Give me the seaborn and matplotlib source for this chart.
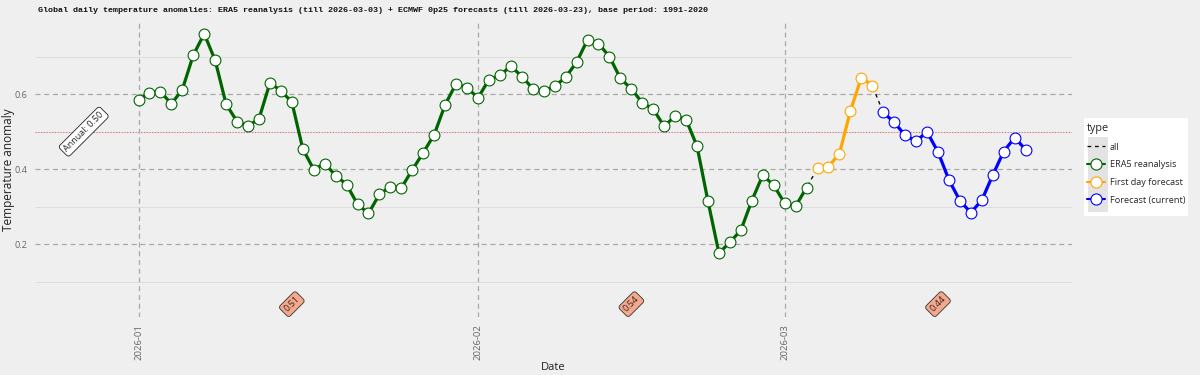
import numpy as np
import pandas as pd
import matplotlib
matplotlib.use('Agg')
import matplotlib.pyplot as plt
import matplotlib.dates as mdates
from matplotlib.lines import Line2D
from matplotlib.patches import Rectangle
import seaborn as sns

# daily anomalies (degC vs 1991-2020)
START = '2026-01-01'
era5 = [0.585, 0.603, 0.607, 0.574, 0.612, 0.704, 0.761, 0.690, 0.573, 0.527,
        0.515, 0.534, 0.630, 0.609, 0.579, 0.454, 0.399, 0.415, 0.383, 0.359,
        0.306, 0.282, 0.333, 0.353, 0.350, 0.398, 0.444, 0.492, 0.572, 0.628,
        0.617,
        0.590, 0.639, 0.650, 0.675, 0.647, 0.615, 0.609, 0.621, 0.645, 0.685,
        0.745, 0.735, 0.700, 0.642, 0.614, 0.577, 0.560, 0.514, 0.542, 0.532,
        0.461, 0.314, 0.176, 0.205, 0.237, 0.316, 0.384, 0.357,
        0.309, 0.301, 0.351]
first_day = [0.402, 0.407, 0.441, 0.555, 0.644, 0.623]
forecast = [0.551, 0.525, 0.490, 0.475, 0.499, 0.446, 0.371, 0.316, 0.284, 0.317,
            0.384, 0.447, 0.484, 0.452]

types = ['ERA5 reanalysis', 'First day forecast', 'Forecast (current)']
colors = {'ERA5 reanalysis': '#006400', 'First day forecast': '#FFA500',
          'Forecast (current)': '#0000FF'}

month_starts = ['2026-01-01', '2026-02-01', '2026-03-01']
month_means = ['0.51', '0.54', '0.44']
annual_mean = 0.50

title = ('Global daily temperature anomalies: ERA5 reanalysis (till 2026-03-03) + '
         'ECMWF 0p25 forecasts (till 2026-03-23), base period: 1991-2020')

BG = '#efefef'

values = era5 + first_day + forecast
labels = [types[0]] * len(era5) + [types[1]] * len(first_day) + [types[2]] * len(forecast)
df = pd.DataFrame({'date': pd.date_range(START, periods=len(values), freq='D'),
                   'anomaly': values, 'type': labels})

sns.set_theme(style='white', rc={'axes.facecolor': BG, 'figure.facecolor': BG})
plt.rcParams['font.family'] = ['Open Sans', 'DejaVu Sans']

fig, ax = plt.subplots(figsize=(12, 3.75), dpi=100)
fig.subplots_adjust(left=0.029, right=0.893, bottom=0.155, top=0.941)

# grid first
ax.set_axisbelow(True)
ax.set_yticks([0.2, 0.4, 0.6])
ax.set_yticks([0.1, 0.3, 0.5, 0.7], minor=True)
ax.grid(which='major', axis='both', ls=(0, (4, 3)), color='#a8a8a8', lw=0.9)
ax.grid(which='minor', axis='y', ls='-', color='#dadada', lw=0.6)
ax.axhline(annual_mean, color='#e07070', ls=(0, (1, 1.5)), lw=0.8, zorder=1)

# all points, thin dashed black underneath
sns.lineplot(data=df, x='date', y='anomaly', color='black', lw=0.9,
             linestyle=(0, (3, 3)), ax=ax, legend=False, zorder=2)
for t in types:
    sub = df[df['type'] == t]
    sns.lineplot(data=sub, x='date', y='anomaly', color=colors[t], lw=2.3,
                 marker='o', markersize=7.8, markerfacecolor='white',
                 markeredgecolor=colors[t], markeredgewidth=0.8,
                 ax=ax, legend=False, zorder=3)

# monthly means
for m, lab in zip(month_starts, month_means):
    x = pd.Timestamp(m) + pd.Timedelta(days=14)
    ax.text(x, 0.04, lab, rotation=45, ha='center', va='center', fontsize=6.5,
            color='#3a2418',
            bbox=dict(boxstyle='round,pad=0.3', fc='#f4a98e', ec='#333333', lw=0.6))
ax.text(pd.Timestamp(START) - pd.Timedelta(days=5), annual_mean,
        'Annual: %.2f' % annual_mean, rotation=45, ha='center', va='center',
        fontsize=6.5, color='#222222',
        bbox=dict(boxstyle='round,pad=0.3', fc='white', ec='#222222', lw=0.6))

ax.set_xlim(pd.Timestamp(START) - pd.Timedelta(days=9.47),
            pd.Timestamp(START) + pd.Timedelta(days=85.2))
ax.set_ylim(0.006, 0.792)
ax.xaxis.set_major_locator(mdates.MonthLocator())
ax.xaxis.set_major_formatter(mdates.DateFormatter('%Y-%m'))
for s in ax.spines.values():
    s.set_visible(False)
ax.tick_params(which='major', length=3, width=0.6, color='#333333',
               labelsize=6.6, labelcolor='#666666', pad=2)
ax.tick_params(which='minor', length=0)
ax.tick_params(axis='x', labelrotation=90, labelsize=6.8)
ax.set_xlabel('Date', fontsize=8, color='#222222', labelpad=2)
ax.set_ylabel('Temperature anomaly', fontsize=8.5, color='#222222')
ax.yaxis.set_label_coords(-0.0195, 0.5)

fig.text(38 / 1200, 1 - 10 / 375, title, family='Liberation Mono',
         weight='bold', fontsize=6.0, va='center', ha='left', color='#111111')

# legend: white box, grey key column
W, H = 1200, 375
fig.patches.append(Rectangle((1084 / W, 1 - 216 / H), 104 / W, 98 / H,
                             transform=fig.transFigure, fc='white', ec='none', zorder=3))
fig.patches.append(Rectangle((1088 / W, 1 - 212 / H), 20 / W, 75 / H,
                             transform=fig.transFigure, fc='#e3e3e3', ec='none', zorder=4))
handles = [Line2D([], [], color='black', lw=0.9, ls=(0, (3, 3)))]
for t in types:
    handles.append(Line2D([], [], color=colors[t], lw=1.5, marker='o', markersize=8,
                          markerfacecolor='white', markeredgecolor=colors[t],
                          markeredgewidth=0.8))
leg = fig.legend(handles, ['all'] + types, title='type', loc='upper left',
                 bbox_to_anchor=(1085 / W, 1 - 121 / H), frameon=False,
                 fontsize=6.6, title_fontsize=7.8, handlelength=2.0, handletextpad=0.5,
                 labelspacing=0.95, borderaxespad=0, borderpad=0.2)
leg._legend_box.align = 'left'
leg.set_zorder(5)

fig.savefig('out.png', dpi=100, facecolor=BG)
